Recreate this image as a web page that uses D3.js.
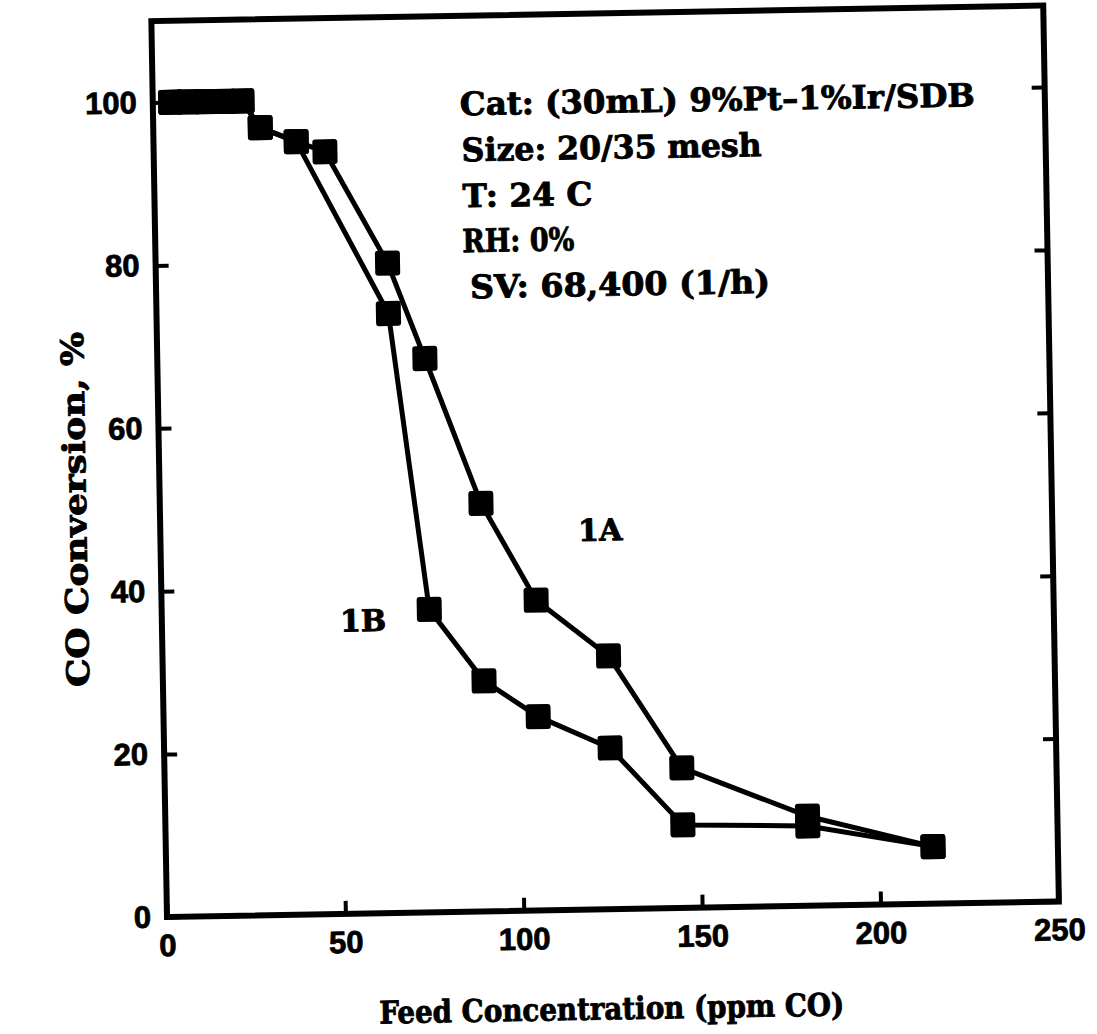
<!DOCTYPE html>
<html>
<head>
<meta charset="utf-8">
<script src="https://cdn.jsdelivr.net/npm/d3@7"></script>
<style>
body { margin: 0; background: #fff; }
</style>
</head>
<body>
<div id="my_dataviz"></div>
<script>
// values
var feed_1A = [5, 10, 15, 20, 25, 30, 40, 48, 65, 75, 90, 105, 125, 145, 180, 215];
var conv_1A = [100, 100, 100, 100, 100, 96.7, 94.9, 93.6, 79.8, 68, 50.1, 38.1, 31.1, 17.2, 11, 7];
var feed_1B = [5, 10, 15, 20, 25, 30, 40, 65, 75, 90, 105, 125, 145, 180, 215];
var conv_1B = [100, 100, 100, 100, 100, 96.7, 94.9, 73.6, 37.2, 28.3, 23.8, 19.8, 10.2, 9.8, 7];
var x_ticks = [0, 50, 100, 150, 200, 250];
var y_ticks = [0, 20, 40, 60, 80, 100];
var notes = ["Cat: (30mL) 9%Pt\u20131%Ir/SDB", "Size: 20/35 mesh", "T: 24 C", "RH: 0%", "SV: 68,400 (1/h)"];
var x_title = "Feed Concentration (ppm CO)";
var y_title = "CO Conversion, %";

function zip(xs, ys){
    return xs.map(function(v, i){ return {feed: v, conv: ys[i]}; });
}
var series = [
    {name: "1A", points: zip(feed_1A, conv_1A)},
    {name: "1B", points: zip(feed_1B, conv_1B)}
];

// plot box, the scan is tilted about one degree
var width = 892, height = 896;
var serif = "'DejaVu Serif', serif";

var svg = d3.select("#my_dataviz")
    .append("svg")
    .attr("width", 1097)
    .attr("height", 1034)
    .style("background", "#fff");

var g = svg.append("g")
    .attr("transform", "translate(167,917) rotate(-1) translate(0," + (-height) + ")");

var x = d3.scaleLinear().domain([0, 250]).range([0, width]);
var y = d3.scaleLinear().domain([0, 110]).range([height, 0]);

// bottom axis, ticks pointing in
var xa = g.append("g")
    .attr("transform", "translate(0," + height + ")")
    .call(d3.axisBottom(x).tickValues(x_ticks).tickSize(-13).tickPadding(17).tickFormat(d3.format("d")));
// left axis
var ya = g.append("g")
    .call(d3.axisLeft(y).tickValues(y_ticks).tickSize(-13).tickPadding(16).tickFormat(d3.format("d")));
// right side ticks only
var yr = g.append("g")
    .attr("transform", "translate(" + width + ",0)")
    .call(d3.axisRight(y).tickValues(y_ticks).tickSize(-13).tickFormat(""));

[xa, ya, yr].forEach(function(a){
    a.select(".domain").remove();
    a.selectAll(".tick line").attr("stroke", "#000").attr("stroke-width", 4);
    a.selectAll("text")
        .attr("fill", "#000")
        .attr("stroke", "#000")
        .attr("stroke-width", 0.8)
        .style("font-family", "'Liberation Sans', Arial, sans-serif")
        .style("font-weight", "bold")
        .style("font-size", "31px");
});

// frame
g.append("rect")
    .attr("x", 0).attr("y", 0)
    .attr("width", width).attr("height", height)
    .attr("fill", "none")
    .attr("stroke", "#000")
    .attr("stroke-width", 6);

// lines
var line = d3.line()
    .x(function(d){ return x(d.feed); })
    .y(function(d){ return y(d.conv); });

g.selectAll(".series")
    .data(series)
    .enter()
    .append("path")
    .attr("class", "series")
    .attr("d", function(d){ return line(d.points); })
    .attr("fill", "none")
    .attr("stroke", "#000")
    .attr("stroke-width", 5)
    .attr("stroke-linejoin", "round");

// square markers
var sq = 25;
series.forEach(function(s){
    g.append("g")
        .selectAll("rect")
        .data(s.points)
        .enter()
        .append("rect")
        .attr("x", function(d){ return x(d.feed) - sq / 2; })
        .attr("y", function(d){ return y(d.conv) - sq / 2; })
        .attr("width", sq)
        .attr("height", sq)
        .attr("rx", 3)
        .attr("fill", "#000");
});

// heavy typewriter-ish text
function heavy(t, size){
    return t.attr("fill", "#000")
        .attr("stroke", "#000")
        .attr("stroke-width", 0.9)
        .style("font-family", serif)
        .style("font-weight", "bold")
        .style("font-size", size + "px");
}

// series labels
heavy(g.append("text").attr("x", x(123.3)).attr("y", y(46.6)).attr("dy", "0.36em")
    .attr("text-anchor", "middle"), 30)
    .text("1A");
heavy(g.append("text").attr("x", x(56.4)).attr("y", y(36)).attr("dy", "0.36em")
    .attr("text-anchor", "middle"), 30)
    .text("1B");

// conditions box text
var note_left = [307, 308, 308, 307, 314];
var note_len = [515, 300, 130, 112, 300];
var note_y = [88, 134, 180, 225, 271];
heavy(g.selectAll(".note")
    .data(notes)
    .enter()
    .append("text")
    .attr("class", "note")
    .attr("x", function(d, i){ return note_left[i]; })
    .attr("y", function(d, i){ return note_y[i]; })
    .attr("dy", "0.36em")
    .attr("textLength", function(d, i){ return note_len[i]; })
    .attr("lengthAdjust", "spacingAndGlyphs"), 32)
    .text(function(d){ return d; });

// axis titles
heavy(g.append("text")
    .attr("x", 443).attr("y", 995).attr("dy", "0.36em")
    .attr("text-anchor", "middle")
    .attr("textLength", 465)
    .attr("lengthAdjust", "spacingAndGlyphs"), 31)
    .text(x_title);
heavy(g.append("text")
    .attr("transform", "translate(-85,487) rotate(-90)")
    .attr("dy", "0.36em")
    .attr("text-anchor", "middle")
    .attr("textLength", 355)
    .attr("lengthAdjust", "spacingAndGlyphs"), 31)
    .text(y_title);
</script>
</body>
</html>
